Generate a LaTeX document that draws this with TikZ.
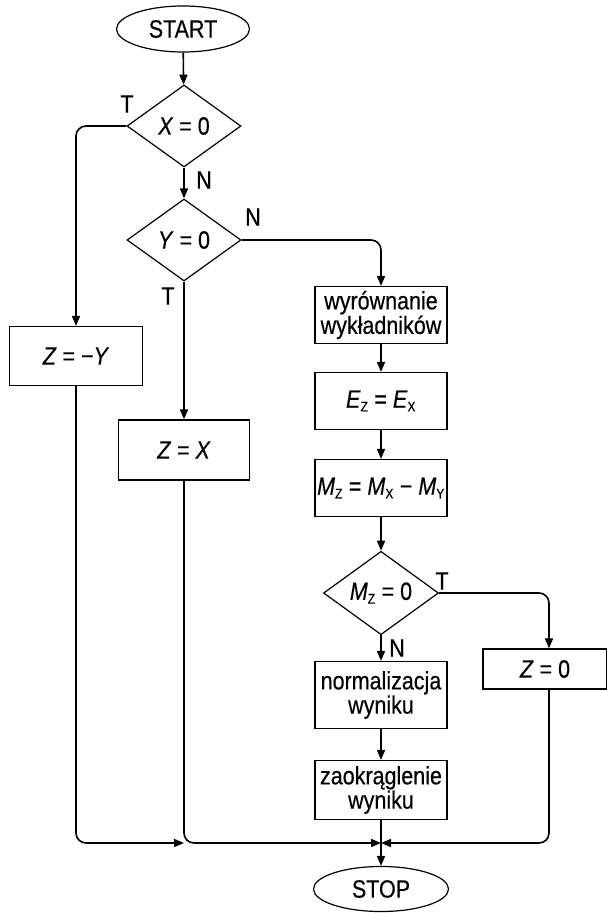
\documentclass[tikz,border=0pt]{standalone}
\usepackage{fontspec}
\setmainfont[FakeStretch=0.86,FakeBold=0.4]{Liberation Sans}
\usetikzlibrary{shapes.geometric,arrows.meta}
\newcommand{\sbs}[1]{\textsubscript{\fontsize{14}{14}\selectfont #1}}
\begin{document}
\begin{tikzpicture}[x=1pt,y=-1pt,
  font=\fontsize{25}{23}\selectfont,
  every node/.style={line width=1.2pt},
  base/.style={draw, inner sep=0pt, align=center},
  term/.style={base, ellipse, minimum width=133pt, minimum height=46pt},
  dec/.style={base, diamond, minimum width=114pt, minimum height=82pt},
  proc/.style={base, rectangle, minimum width=132pt, minimum height=57pt},
  conn/.style={line width=1.6pt, rounded corners=10pt, -{Triangle[length=10pt,width=8pt]}},
  lab/.style={inner sep=0pt}
]
\useasboundingbox (0,0) rectangle (607,913);
\node[term] (start) at (183,29) {START};
\node[dec] (d1) at (184,126) {\textit{X} = 0};
\node[dec] (d2) at (184,240) {\textit{Y} = 0};
\node[proc, minimum width=133pt, minimum height=59pt] (zy) at (76,356) {\textit{Z} = −\textit{Y}};
\node[proc, minimum width=131pt, minimum height=60pt] (zx) at (184,450) {\textit{Z} = \textit{X}};
\node[proc] (wyr) at (381,315) {wyrównanie\\wykładników};
\node[proc] (ez) at (381,401) {\textit{E}\sbs{Z} = \textit{E}\sbs{X}};
\node[proc] (mz) at (381,488) {\textit{M}\sbs{Z} = \textit{M}\sbs{X} − \textit{M}\sbs{Y}};
\node[dec, minimum width=115pt, minimum height=81pt] (d3) at (381,593) {\textit{M}\sbs{Z} = 0};
\node[proc, minimum width=124pt, minimum height=40pt] (z0) at (545,669) {\textit{Z} = 0};
\node[proc, minimum height=67pt] (norm) at (381,695) {normalizacja\\wyniku};
\node[proc, minimum height=59pt] (zao) at (381,790) {zaokrąglenie\\wyniku};
\node[term, minimum width=135pt, minimum height=45pt] (stop) at (381,889) {STOP};
\coordinate (m) at (381,843);

\node[lab] at (127,104) {T};
\node[lab] at (204,180) {N};
\node[lab] at (253,217) {N};
\node[lab] at (168,296) {T};
\node[lab] at (442,581) {T};
\node[lab] at (397,648) {N};

\draw[conn] (start) -- (d1);
\draw[conn] (d1.west) -| (zy.north);
\draw[conn] (d1) -- (d2);
\draw[conn] (d2.east) -| (wyr.north);
\draw[conn] (d2) -- (zx);
\draw[conn] (wyr) -- (ez);
\draw[conn] (ez) -- (mz);
\draw[conn] (mz) -- (d3);
\draw[conn] (d3.east) -| ([xshift=4pt]z0.north);
\draw[conn] (d3) -- (norm);
\draw[conn] (norm) -- (zao);
\draw[conn] (zao) -- (stop);
\draw[conn] (zy.south) |- (zx.south |- m);
\draw[conn] (zx.south) |- (m);
\draw[conn] ([xshift=4pt]z0.south) |- (m);
\end{tikzpicture}
\end{document}
